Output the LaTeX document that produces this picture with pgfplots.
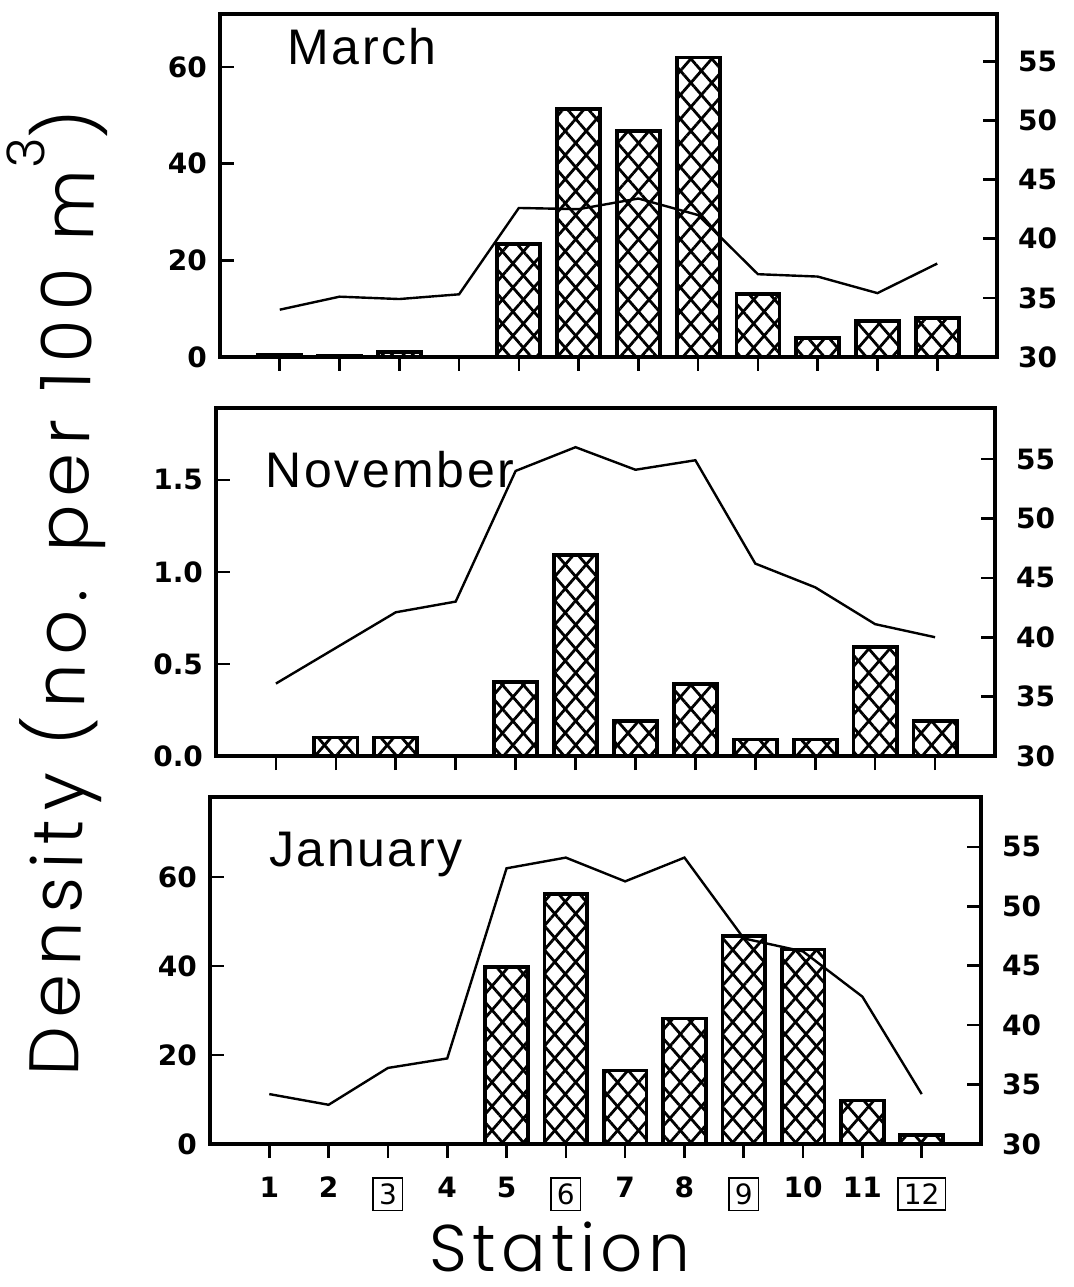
\documentclass[border=0pt]{standalone}
\usepackage{fontspec}
\setmainfont{Liberation Sans}
\newfontfamily\tickfont{DejaVu Sans}
\newfontfamily\thinfont{Poppins Light}
\usepackage{pgfplots}
\pgfplotsset{compat=1.18}
\usetikzlibrary{patterns.meta}

\pgfplotsset{
  panel/.style={scale only axis, xmin=0, xmax=13,
    axis line style={line width=1.6pt},
    major tick style={line width=1.3pt, black},
    major tick length=7pt},
  leftax/.style={panel, xtick=\empty, ytick pos=left, tick align=inside,
    yticklabel style={font=\tickfont\bfseries\fontsize{14}{14}\selectfont, xshift=-3pt}},
  rightax/.style={panel, xtick=\empty, ytick pos=right, yticklabel pos=right,
    tick align=inside, ymin=30, ytick={30,35,40,45,50,55},
    yticklabels={30,35,40,45,50,55},
    yticklabel style={font=\tickfont\bfseries\fontsize{14}{14}\selectfont, xshift=7pt}},
  xax/.style={panel, ymin=0, ymax=1, ytick=\empty, xtick={1,...,12},
    xtick pos=bottom, tick align=outside,
    xticklabel style={font=\tickfont\bfseries\fontsize{14}{14}\selectfont, yshift=-6pt}},
  hatchA/.style={ybar, bar width=0.72, bar shift=0pt, draw=black, line width=1.9pt,
    pattern={Lines[angle=49,distance=7.9pt,line width=1.4pt]}},
  hatchB/.style={ybar, bar width=0.72, bar shift=0pt, draw=black, line width=1.9pt,
    pattern={Lines[angle=-49,distance=7.9pt,line width=1.4pt]}},
  temp/.style={black, line width=1.2pt, mark=none},
}
\newcommand{\ttl}{\fontsize{25}{25}\selectfont\addfontfeatures{LetterSpace=5}}
\newcommand{\bx}[1]{\fbox{\mdseries #1}}

\begin{document}
\begin{tikzpicture}
\useasboundingbox (0,0) rectangle (536.5pt,643.5pt);

% ---------------- March ----------------
\begin{axis}[leftax, at={(110pt,465pt)}, anchor=south west, width=388.5pt, height=171.5pt,
  ymin=0, ymax=71, ytick={0,20,40,60}, yticklabels={0,20,40,60}]
\addplot[hatchA] coordinates {(1,0.5)(2,0.2)(3,1.0)(5,23.4)(6,51.3)(7,46.7)(8,62)(9,13)(10,4)(11,7.5)(12,8)};
\addplot[hatchB] coordinates {(1,0.5)(2,0.2)(3,1.0)(5,23.4)(6,51.3)(7,46.7)(8,62)(9,13)(10,4)(11,7.5)(12,8)};
\node[anchor=base west, font=\ttl] at (rel axis cs:0.078,0.854) {March};
\end{axis}
\begin{axis}[rightax, at={(110pt,465pt)}, anchor=south west, width=388.5pt, height=171.5pt, ymax=59]
\addplot[temp] coordinates {(1,34.0)(2,35.1)(3,34.9)(4,35.3)(5,42.6)(6,42.5)(7,43.4)(8,42.0)(9,37.0)(10,36.8)(11,35.4)(12,37.9)};
\end{axis}
\begin{axis}[xax, at={(110pt,465pt)}, anchor=south west, width=388.5pt, height=171.5pt, xticklabels={}]
\end{axis}

% ---------------- November ----------------
\begin{axis}[leftax, at={(108pt,265.5pt)}, anchor=south west, width=389.5pt, height=174pt,
  ymin=0, ymax=1.89, ytick={0,0.5,1,1.5}, yticklabels={0.0,0.5,1.0,1.5}]
\addplot[hatchA] coordinates {(2,0.1)(3,0.1)(5,0.4)(6,1.09)(7,0.19)(8,0.39)(9,0.09)(10,0.09)(11,0.59)(12,0.19)};
\addplot[hatchB] coordinates {(2,0.1)(3,0.1)(5,0.4)(6,1.09)(7,0.19)(8,0.39)(9,0.09)(10,0.09)(11,0.59)(12,0.19)};
\node[anchor=base west, font=\ttl] at (rel axis cs:0.055,0.771) {November};
\end{axis}
\begin{axis}[rightax, at={(108pt,265.5pt)}, anchor=south west, width=389.5pt, height=174pt, ymax=59.3]
\addplot[temp] coordinates {(1,36.1)(2,39.1)(3,42.1)(4,43.0)(5,54.0)(6,56.0)(7,54.1)(8,54.9)(9,46.2)(10,44.2)(11,41.1)(12,40.0)};
\end{axis}
\begin{axis}[xax, at={(108pt,265.5pt)}, anchor=south west, width=389.5pt, height=174pt, xticklabels={}]
\end{axis}

% ---------------- January ----------------
\begin{axis}[leftax, at={(105pt,71.5pt)}, anchor=south west, width=385.5pt, height=173.5pt,
  ymin=0, ymax=78, ytick={0,20,40,60}, yticklabels={0,20,40,60}]
\addplot[hatchA] coordinates {(5,39.8)(6,56.2)(7,16.5)(8,28.2)(9,46.7)(10,43.7)(11,9.8)(12,2)};
\addplot[hatchB] coordinates {(5,39.8)(6,56.2)(7,16.5)(8,28.2)(9,46.7)(10,43.7)(11,9.8)(12,2)};
\node[anchor=base west, font=\ttl] at (rel axis cs:0.068,0.80) {January};
\end{axis}
\begin{axis}[rightax, at={(105pt,71.5pt)}, anchor=south west, width=385.5pt, height=173.5pt, ymax=59.2]
\addplot[temp] coordinates {(1,34.2)(2,33.3)(3,36.4)(4,37.2)(5,53.2)(6,54.1)(7,52.1)(8,54.1)(9,47.3)(10,46.2)(11,42.4)(12,34.2)};
\end{axis}
\setlength{\fboxsep}{2.5pt}\setlength{\fboxrule}{0.8pt}
\begin{axis}[xax, at={(105pt,71.5pt)}, anchor=south west, width=385.5pt, height=173.5pt,
  xticklabels={1,2,\bx{3},4,5,\bx{6},7,8,\bx{9},10,11,\bx{12}}]
\end{axis}

% ---------------- axis titles ----------------
\node[rotate=89, anchor=base, inner sep=0pt, font=\thinfont\fontsize{35}{35}\selectfont\addfontfeatures{LetterSpace=12}]
  at (43.5pt,347pt) {Density (no. per 100 m\raisebox{25pt}{\fontsize{26}{26}\selectfont 3})};
\node[anchor=base, inner sep=0pt, font=\thinfont\fontsize{33}{33}\selectfont\addfontfeatures{LetterSpace=8}]
  at (280pt,8pt) {Station};
\end{tikzpicture}
\end{document}
